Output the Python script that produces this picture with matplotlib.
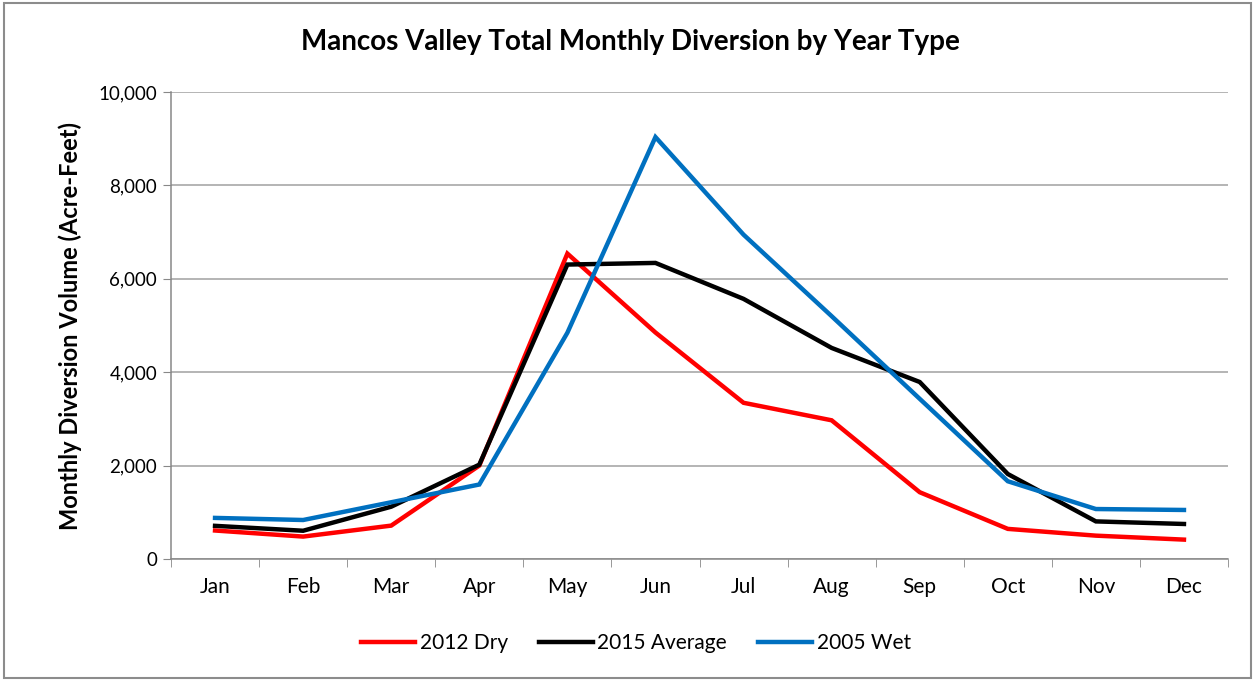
"""Mancos Valley total monthly diversion by year type."""

import numpy
from matplotlib import pyplot
from matplotlib.patches import Rectangle
from matplotlib.ticker import FuncFormatter

months = ['Jan', 'Feb', 'Mar', 'Apr', 'May', 'Jun',
          'Jul', 'Aug', 'Sep', 'Oct', 'Nov', 'Dec']
dry_2012 = [610, 480, 715, 2000, 6540, 4850, 3345, 2970, 1430, 645, 500, 415]
avg_2015 = [710, 605, 1120, 2020, 6305, 6340, 5570, 4520, 3790, 1820, 805, 750]
wet_2005 = [880, 835, 1215, 1595, 4845, 9035, 6945, 5200, 3430, 1665, 1070, 1050]

pyplot.rc('font', family=['Lato', 'DejaVu Sans'], size=13)

fig = pyplot.figure(figsize=(12.55, 6.81), dpi=100)
ax = fig.add_axes([171 / 1255, 1 - 559 / 681, (1228 - 171) / 1255, (559 - 92) / 681])

x = numpy.arange(len(months))
ax.plot(x, dry_2012, color='#FF0000', lw=3.2, label='2012 Dry', solid_joinstyle='miter')
ax.plot(x, avg_2015, color='#000000', lw=3.2, label='2015 Average', solid_joinstyle='miter')
ax.plot(x, wet_2005, color='#0070C0', lw=3.2, label='2005 Wet', solid_joinstyle='miter')

ax.set_xlim(-0.5, 11.5)
ax.set_ylim(0, 10000)
ax.set_yticks(numpy.arange(0, 10001, 2000))
ax.yaxis.set_major_formatter(FuncFormatter(lambda v, p: f'{int(v):,}'))
ax.set_xticks(x)
ax.set_xticklabels(months)
ax.set_xticks(numpy.arange(-0.5, 12, 1), minor=True)
ax.tick_params(axis='x', which='major', length=0, pad=13, labelsize=15)
ax.tick_params(axis='x', which='minor', length=6, color='#888888', direction='out')
ax.tick_params(axis='y', length=6, color='#888888', direction='out', pad=4,
               labelsize=13.5)
ax.grid(axis='y', color='#A0A0A0', lw=1.1)
ax.set_axisbelow(True)
for side in ['top', 'right']:
    ax.spines[side].set_visible(False)
for side in ['left', 'bottom']:
    ax.spines[side].set_color('#888888')
    ax.spines[side].set_linewidth(1.1)

ax.set_ylabel('Monthly Diversion Volume (Acre-Feet)', fontsize=17,
              fontweight='bold', labelpad=12)
fig.text(630 / 1255, 1 - 42 / 681, 'Mancos Valley Total Monthly Diversion by Year Type',
         ha='center', va='center', fontsize=20, fontweight='bold')

fig.legend(loc='center', bbox_to_anchor=(636 / 1255, 1 - 643 / 681), ncol=3,
           frameon=False, handlelength=2.6, handletextpad=0.2, columnspacing=1.5,
           fontsize=15)

fig.patches.append(Rectangle((0.003, 0.004), 0.994, 0.992, transform=fig.transFigure,
                             fill=False, edgecolor='#8C8C8C', lw=1.5))

fig.savefig('out.png', dpi=100)
